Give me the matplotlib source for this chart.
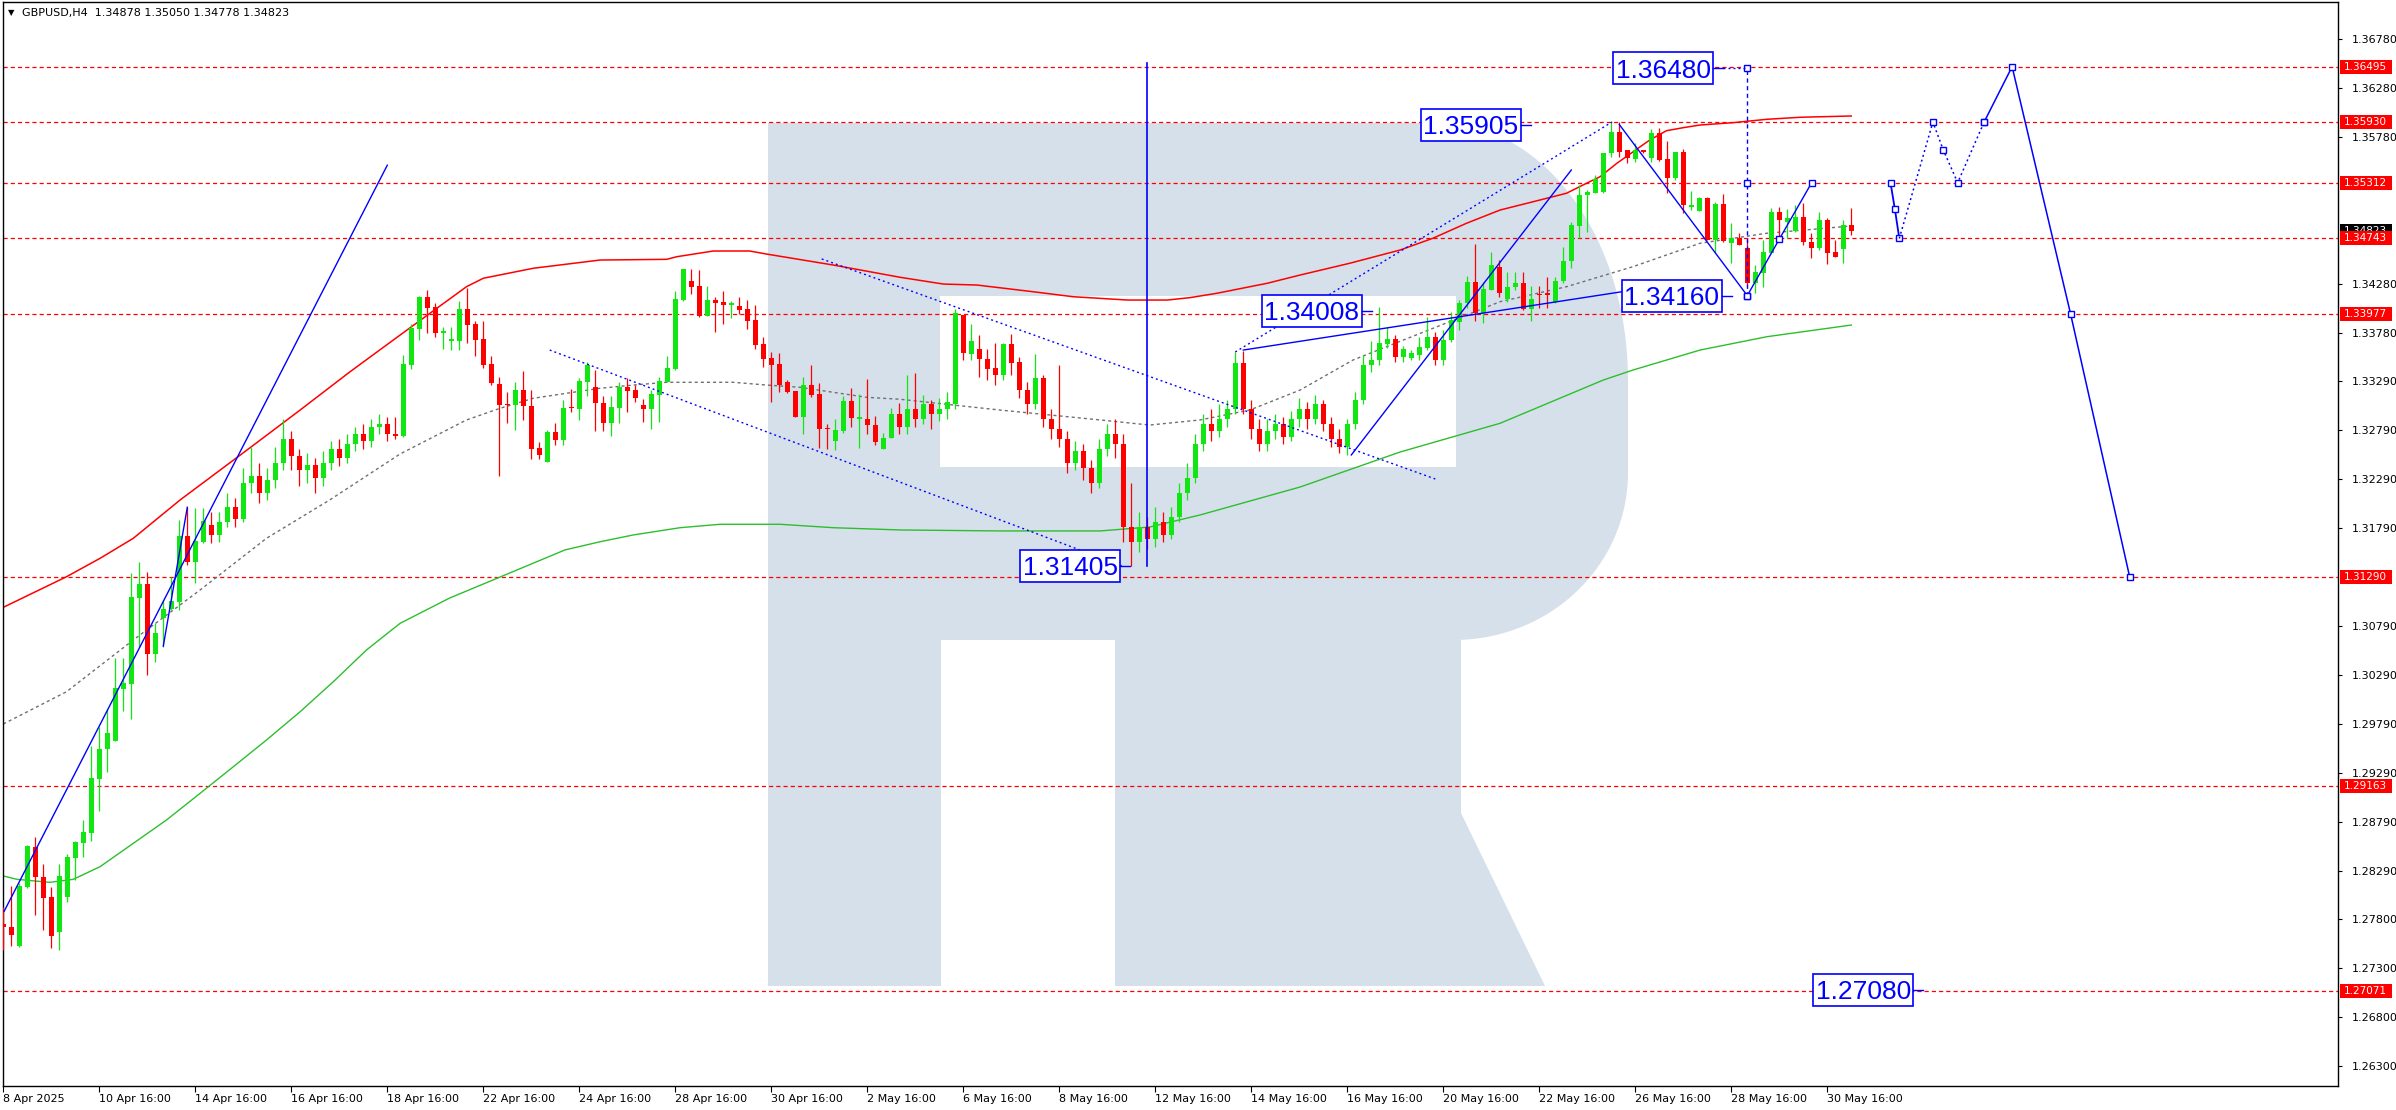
import matplotlib
matplotlib.use("Agg")
import matplotlib.pyplot as plt
import matplotlib.transforms as mtransforms
from matplotlib.patches import Rectangle, Polygon
import numpy as np

plt.rcParams['lines.scale_dashes'] = False
plt.rcParams['font.family'] = ['DejaVu Sans']

W, H = 2396, 1110
# plot area in pixels, and the pixel <-> (bar, price) mapping of the screenshot
AX_L, AX_R, AX_T, AX_B = 3, 2338, 2, 1086
X0_PX, BAR_PX = 3.3, 8.0
TOP_PRICE, PRICE_PX = 1.37175, 9805.0

# ---------------- data: GBPUSD H4, bar 0 = 8 Apr 2025 16:00 ----------------
opens = [
    1.27751, 1.27724, 1.27527, 1.28132, 1.28540, 1.28234, 1.28023, 1.27666, 1.28030, 1.28428,
    1.28581, 1.28683, 1.29234, 1.29533, 1.29621, 1.30148, 1.30196, 1.31080, 1.31216, 1.30502,
    1.30869, 1.30961, 1.31039, 1.31709, 1.31447, 1.31648, 1.31821, 1.3172, 1.3185, 1.3200,
    1.3188, 1.3225, 1.3232, 1.3215, 1.3228, 1.3245, 1.3270, 1.3252, 1.3238, 1.3243,
    1.3230, 1.3245, 1.3260, 1.3250, 1.3265, 1.3275, 1.3268, 1.3282, 1.3285, 1.3275,
    1.32728, 1.33452, 1.33819, 1.34146, 1.34044, 1.33782, 1.33700, 1.33700, 1.34023, 1.33874,
    1.33717, 1.33462, 1.33258, 1.33058, 1.33044, 1.33197, 1.33034, 1.32605, 1.32466, 1.32769,
    1.32691, 1.33017, 1.33007, 1.33282, 1.33224, 1.33061, 1.32864, 1.33017, 1.33228, 1.33197,
    1.33041, 1.33000, 1.33146, 1.33282, 1.33415, 1.34118, 1.34309, 1.34261, 1.33955, 1.34115,
    1.34095, 1.34067, 1.34054, 1.34023, 1.33911, 1.33666, 1.33520, 1.33462, 1.33279, 1.33187,
    1.32925, 1.33248, 1.33156, 1.32809, 1.32680, 1.32782, 1.33085, 1.32905, 1.32901, 1.32840,
    1.32595, 1.32704, 1.32952, 1.3282, 1.3300, 1.3290, 1.3305, 1.3295, 1.3300, 1.3305,
    1.33962, 1.33564, 1.33612, 1.33510, 1.33418, 1.33350, 1.33666, 1.33479, 1.3320, 1.3305,
    1.3332, 1.3290, 1.3280, 1.3270, 1.3245, 1.3258, 1.3240, 1.3225, 1.3260, 1.3275,
    1.3265, 1.3180, 1.3165, 1.3180, 1.3168, 1.3185, 1.3172, 1.3190, 1.3215, 1.3230,
    1.3265, 1.3285, 1.3278, 1.3290, 1.3300, 1.33476, 1.3300, 1.3280, 1.3265, 1.3278,
    1.3285, 1.3272, 1.3290, 1.3300, 1.3290, 1.3305, 1.3285, 1.3270, 1.3262, 1.3285,
    1.3310, 1.3345, 1.33503, 1.33666, 1.33714, 1.33537, 1.33520, 1.33554, 1.33622, 1.33741,
    1.33503, 1.33707, 1.33894, 1.34081, 1.34302, 1.33979, 1.34217, 1.34455, 1.34122, 1.34244,
    1.34285, 1.34020, 1.34176, 1.34183, 1.34098, 1.34312, 1.34516, 1.34873, 1.35186, 1.35210,
    1.35220, 1.35611, 1.35825, 1.35645, 1.35557, 1.35638, 1.35567, 1.35822, 1.35550, 1.35363,
    1.35621, 1.35067, 1.35026, 1.35159, 1.34727, 1.35094, 1.34693, 1.34744, 1.34642, 1.34285,
    1.34394, 1.34591, 1.35009, 1.34914, 1.34822, 1.34958, 1.34710, 1.34649, 1.34931, 1.34601,
    1.34632, 1.34878,
]
highs = [
    1.27928, 1.28139, 1.28166, 1.28557, 1.28635, 1.28363, 1.28132, 1.28363, 1.28465, 1.28601,
    1.28812, 1.29567, 1.29764, 1.29941, 1.30461, 1.30461, 1.31328, 1.31444, 1.31342, 1.30825,
    1.31056, 1.31294, 1.31872, 1.32001, 1.31991, 1.31991, 1.31957, 1.3195, 1.3215, 1.3210,
    1.3240, 1.3262, 1.3245, 1.3240, 1.3262, 1.3290, 1.3278, 1.3260, 1.3255, 1.3250,
    1.3258, 1.3268, 1.3270, 1.3275, 1.3282, 1.3285, 1.3290, 1.3295, 1.3292, 1.3292,
    1.33554, 1.33870, 1.34156, 1.34217, 1.34081, 1.33843, 1.33843, 1.34105, 1.34241, 1.33901,
    1.33901, 1.33547, 1.33330, 1.33177, 1.33279, 1.33394, 1.33197, 1.32670, 1.32789, 1.32857,
    1.33095, 1.33207, 1.33319, 1.33479, 1.33401, 1.33136, 1.33136, 1.33275, 1.33319, 1.33248,
    1.33109, 1.33197, 1.33333, 1.33544, 1.34207, 1.34431, 1.34431, 1.34421, 1.34261, 1.34149,
    1.34210, 1.34108, 1.34149, 1.34118, 1.34064, 1.33741, 1.33588, 1.33578, 1.33299, 1.33187,
    1.33326, 1.33452, 1.33272, 1.32850, 1.32898, 1.33136, 1.33217, 1.33156, 1.33309, 1.32932,
    1.32762, 1.33010, 1.33064, 1.3335, 1.3337, 1.3315, 1.3310, 1.3312, 1.3318, 1.34020,
    1.33962, 1.33870, 1.33758, 1.33612, 1.33673, 1.33673, 1.33768, 1.33537, 1.3328, 1.33564,
    1.3335, 1.3300, 1.3345, 1.3278, 1.3268, 1.3265, 1.3248, 1.3270, 1.3285, 1.3290,
    1.3275, 1.3225, 1.3195, 1.3190, 1.3200, 1.3195, 1.3200, 1.3225, 1.3245, 1.3275,
    1.3295, 1.3300, 1.3305, 1.3310, 1.33588, 1.3360, 1.3310, 1.3290, 1.3290, 1.3295,
    1.3292, 1.3298, 1.3312, 1.3308, 1.3315, 1.3310, 1.3292, 1.3280, 1.3290, 1.3318,
    1.3355, 1.3370, 1.34040, 1.33843, 1.33758, 1.33646, 1.33605, 1.33741, 1.33945, 1.33792,
    1.33809, 1.33996, 1.34115, 1.34360, 1.34686, 1.34302, 1.34601, 1.34523, 1.34404, 1.34404,
    1.34404, 1.34258, 1.34258, 1.34353, 1.34353, 1.34659, 1.34914, 1.35288, 1.35237, 1.35390,
    1.35611, 1.35934, 1.35927, 1.35645, 1.35713, 1.35645, 1.35856, 1.35873, 1.35737, 1.35621,
    1.35655, 1.35227, 1.35169, 1.35169, 1.35118, 1.35193, 1.34897, 1.34795, 1.34734, 1.34472,
    1.34727, 1.35050, 1.35067, 1.35040, 1.35084, 1.35101, 1.34795, 1.35016, 1.34948, 1.34727,
    1.34931, 1.35050,
]
lows = [
    1.27486, 1.27527, 1.27513, 1.28115, 1.27843, 1.27690, 1.27503, 1.27486, 1.27979, 1.28200,
    1.28438, 1.28601, 1.28907, 1.29305, 1.29621, 1.29927, 1.29839, 1.30580, 1.30288, 1.30427,
    1.30580, 1.30954, 1.30954, 1.31410, 1.31226, 1.31634, 1.31634, 1.3165, 1.3180, 1.3180,
    1.3185, 1.3215, 1.3205, 1.3208, 1.3220, 1.3238, 1.3238, 1.3222, 1.3225, 1.3215,
    1.3222, 1.3238, 1.3242, 1.3245, 1.3258, 1.3260, 1.3262, 1.3275, 1.3268, 1.3270,
    1.32714, 1.33411, 1.33707, 1.33782, 1.33741, 1.33615, 1.33605, 1.33605, 1.33680, 1.33544,
    1.33425, 1.33248, 1.32323, 1.32864, 1.32789, 1.32891, 1.32497, 1.32497, 1.32466, 1.32636,
    1.32636, 1.32969, 1.32891, 1.33139, 1.32782, 1.32782, 1.32731, 1.32864, 1.32976, 1.33078,
    1.32874, 1.32796, 1.32874, 1.33282, 1.33401, 1.34108, 1.34173, 1.33938, 1.33955, 1.33792,
    1.33870, 1.33928, 1.33969, 1.33816, 1.33619, 1.33428, 1.33078, 1.33180, 1.33163, 1.32925,
    1.32745, 1.33129, 1.32609, 1.32595, 1.32585, 1.32755, 1.32816, 1.32602, 1.32748, 1.32636,
    1.32595, 1.32704, 1.32745, 1.3275, 1.3282, 1.3285, 1.3280, 1.3288, 1.3290, 1.3300,
    1.33503, 1.3350, 1.33333, 1.3330, 1.3325, 1.3330, 1.3335, 1.3312, 1.3295, 1.3300,
    1.3282, 1.3270, 1.3262, 1.3235, 1.3238, 1.3228, 1.3215, 1.3220, 1.3252, 1.3250,
    1.3165, 1.31405, 1.3155, 1.3158, 1.3160, 1.3165, 1.3168, 1.3185, 1.3208, 1.3225,
    1.3258, 1.3268, 1.3272, 1.3282, 1.3295, 1.3295, 1.3270, 1.3258, 1.3258, 1.3270,
    1.3265, 1.3268, 1.3282, 1.3280, 1.3285, 1.3278, 1.3262, 1.3255, 1.3253, 1.3280,
    1.3305, 1.3338, 1.3345, 1.33622, 1.3348, 1.3348, 1.33503, 1.33503, 1.33605, 1.3345,
    1.3345, 1.33690, 1.33809, 1.34030, 1.33904, 1.33877, 1.34217, 1.3415, 1.34098, 1.34217,
    1.34013, 1.33904, 1.34030, 1.34030, 1.34081, 1.34285, 1.34438, 1.34744, 1.34805, 1.35203,
    1.35210, 1.35577, 1.35577, 1.35509, 1.35526, 1.35611, 1.35526, 1.35536, 1.35210, 1.35339,
    1.34999, 1.35033, 1.35026, 1.34727, 1.34591, 1.34710, 1.34489, 1.34676, 1.34268, 1.34183,
    1.34251, 1.34591, 1.34744, 1.34744, 1.34812, 1.34676, 1.34547, 1.34625, 1.34479, 1.34550,
    1.34496, 1.34778,
]
closes = [
    1.27717, 1.27642, 1.28139, 1.28547, 1.28234, 1.28020, 1.27632, 1.28241, 1.28431, 1.28588,
    1.28690, 1.29240, 1.29533, 1.29696, 1.30155, 1.30206, 1.31083, 1.31216, 1.30502, 1.30716,
    1.30961, 1.31046, 1.31709, 1.31447, 1.31654, 1.31858, 1.31722, 1.3185, 1.3200, 1.3188,
    1.3225, 1.3232, 1.3215, 1.3228, 1.3245, 1.3270, 1.3252, 1.3238, 1.3243, 1.3230,
    1.3245, 1.3260, 1.3250, 1.3265, 1.3275, 1.3268, 1.3282, 1.3285, 1.3275, 1.3273,
    1.33462, 1.33826, 1.34149, 1.34037, 1.33782, 1.33799, 1.33707, 1.34023, 1.33863, 1.33710,
    1.33452, 1.33272, 1.33044, 1.33044, 1.33197, 1.33037, 1.32599, 1.32537, 1.32769, 1.32691,
    1.33013, 1.33010, 1.33289, 1.33452, 1.33061, 1.32864, 1.33024, 1.33228, 1.33190, 1.33115,
    1.33000, 1.33156, 1.33289, 1.33421, 1.34125, 1.34431, 1.34251, 1.33955, 1.34115, 1.34088,
    1.34067, 1.34074, 1.34016, 1.33904, 1.33659, 1.33510, 1.33452, 1.33248, 1.33180, 1.32925,
    1.33248, 1.33146, 1.32803, 1.32796, 1.32789, 1.33085, 1.32915, 1.32911, 1.32837, 1.32670,
    1.32704, 1.32952, 1.32816, 1.3300, 1.3290, 1.3305, 1.3295, 1.3300, 1.3308, 1.33979,
    1.33578, 1.33697, 1.33513, 1.33411, 1.33350, 1.33666, 1.33476, 1.3320, 1.3305, 1.3332,
    1.3290, 1.3280, 1.3270, 1.3245, 1.3258, 1.3240, 1.3225, 1.3260, 1.3275, 1.3265,
    1.3180, 1.3165, 1.3180, 1.3168, 1.3185, 1.3172, 1.3190, 1.3215, 1.3230, 1.3265,
    1.3285, 1.3278, 1.3290, 1.3300, 1.33476, 1.3300, 1.3280, 1.3265, 1.3278, 1.3285,
    1.3272, 1.3290, 1.3300, 1.3290, 1.3305, 1.3285, 1.3270, 1.3262, 1.3285, 1.3310,
    1.3345, 1.3350, 1.33673, 1.33714, 1.33537, 1.33612, 1.33571, 1.33639, 1.33741, 1.33503,
    1.33707, 1.33911, 1.34081, 1.34302, 1.33979, 1.34227, 1.34472, 1.34183, 1.34244, 1.34285,
    1.34020, 1.34122, 1.34166, 1.34169, 1.34312, 1.34516, 1.34880, 1.35186, 1.35220, 1.35349,
    1.35611, 1.35825, 1.35628, 1.35560, 1.35645, 1.35628, 1.35822, 1.35543, 1.35363, 1.35621,
    1.35084, 1.35084, 1.35152, 1.34727, 1.35094, 1.34720, 1.34744, 1.34676, 1.34285, 1.34404,
    1.34601, 1.35009, 1.34931, 1.34948, 1.34965, 1.34710, 1.34649, 1.34931, 1.34598, 1.34557,
    1.34878, 1.34823,
]

# moving averages, read as (bar, price) points
red_ma_x = [0, 7.9, 12.1, 16.25, 22.1, 30.8, 37.1, 43.3, 49.6, 57.9, 60, 66.25, 74.6, 82.9,
            84.2, 88.75, 93.3, 95.4, 103.75, 112.1, 117.5, 121.7, 128.7, 133.7, 140.5, 145.5,
            148.3, 151.7, 158, 162.1, 168.3, 174.6, 178.7, 182.9, 187.1, 191.25, 195.4, 197.9,
            199.6, 201.7, 203.75, 205.8, 207.9, 210, 212.1, 216.25, 220.4, 224.6, 231]
red_ma_y = [1.30981, 1.31293, 1.31481, 1.31685, 1.32076, 1.32606, 1.32993, 1.33381, 1.33758,
            1.34251, 1.34337, 1.34439, 1.34523, 1.34530, 1.34557, 1.34615, 1.34615, 1.34584,
            1.34472, 1.34347, 1.34278, 1.34268, 1.34200, 1.34149, 1.34115, 1.34115, 1.34139,
            1.34184, 1.34286, 1.34370, 1.34490, 1.34625, 1.34745, 1.34898, 1.35033, 1.35118,
            1.35204, 1.35306, 1.35373, 1.35510, 1.35628, 1.35747, 1.35842, 1.35873, 1.35900,
            1.35924, 1.35958, 1.35979, 1.35992]
gray_ma_x = [0, 7.9, 16.25, 24.6, 32.9, 40.8, 49.6, 57.9, 62.1, 66.25, 70.4, 74.6, 78.75, 82.9,
             91.25, 95.4, 99.6, 107.9, 112.1, 124.6, 137.1, 143.3, 149.6, 155.8, 162.1, 168.7,
             187.1, 195.4, 203.7, 212.1, 220.4, 231]
gray_ma_y = [1.29791, 1.30120, 1.30648, 1.31158, 1.31685, 1.32076, 1.32545, 1.32892, 1.33011,
             1.33113, 1.33164, 1.33215, 1.33248, 1.33276, 1.33276, 1.33248, 1.33225, 1.33123,
             1.33103, 1.32993, 1.32892, 1.32840, 1.32892, 1.32993, 1.33197, 1.33503, 1.34098,
             1.34251, 1.34455, 1.34694, 1.34796, 1.34870]
green_ma_x = [0, 1.7, 5.8, 8.75, 12.1, 16.25, 20.4, 24.6, 28.75, 32.9, 37.1, 41.25, 45.4, 49.6,
              55.8, 62.1, 70.2, 74.6, 78.75, 84.6, 89.6, 97.1, 103.75, 112.1, 124.6, 137.1,
              143.3, 149.6, 162.1, 174.6, 187.1, 200, 203.7, 212.1, 220.45, 231]
green_ma_y = [1.28241, 1.28207, 1.28176, 1.28207, 1.28336, 1.28574, 1.28812, 1.29084, 1.29355,
              1.29628, 1.29916, 1.30222, 1.30546, 1.30818, 1.31076, 1.31290, 1.31566, 1.31650,
              1.31719, 1.31793, 1.31828, 1.31828, 1.31793, 1.31770, 1.31760, 1.31760, 1.31800,
              1.31923, 1.32208, 1.32565, 1.32858, 1.33299, 1.33401, 1.33605, 1.33741, 1.33860]

levels = [1.36495, 1.35930, 1.35312, 1.34743, 1.33977, 1.31290, 1.29163, 1.27071]
last_price = 1.34823
# scale labels that are not hidden behind the level tags
price_ticks = [1.36780, 1.36280, 1.35780, 1.34280, 1.33780, 1.33290, 1.32790, 1.32290,
               1.31790, 1.30790, 1.30290, 1.29790, 1.29290, 1.28790, 1.28290, 1.27800,
               1.27300, 1.26800, 1.26300]
time_labels = ['8 Apr 2025', '10 Apr 16:00', '14 Apr 16:00', '16 Apr 16:00', '18 Apr 16:00',
               '22 Apr 16:00', '24 Apr 16:00', '28 Apr 16:00', '30 Apr 16:00', '2 May 16:00',
               '6 May 16:00', '8 May 16:00', '12 May 16:00', '14 May 16:00', '16 May 16:00',
               '20 May 16:00', '22 May 16:00', '26 May 16:00', '28 May 16:00', '30 May 16:00']
header = 'GBPUSD,H4  1.34878 1.35050 1.34778 1.34823'

# analysis drawings (bar, price)
solid_lines = [((0.1, 1.2788), (48.0, 1.3549)),
               ((20.0, 1.30586), (23.0, 1.32001)),
               ((155.0, 1.33605), (209.2, 1.34286)),
               ((168.5, 1.32535), (196.0, 1.35441))]
dotted_lines = [((68.3, 1.33605), (139.8, 1.31405)),
                ((102.3, 1.34534), (179.0, 1.32290)),
                ((154.0, 1.33585), (201.1, 1.35931))]
spike_bar, spike_top, spike_bottom = 142.96, 1.36532, 1.31402
label_text = ['1.36480', '1.35905', '1.34008', '1.34160', '1.31405', '1.27080']
label_bar = [201.25, 177.2, 157.3, 202.3, 127.1, 226.25]
zigzag_x = [202.0, 218.0, 222.0, 226.05]
zigzag_y = [1.35905, 1.34160, 1.34736, 1.35312]
proj_bar, proj_y = 218.0, [1.36480, 1.35312, 1.34160]
fc_solid1_x, fc_solid1_y = [235.9, 236.45, 237.0], [1.35312, 1.35040, 1.34743]
fc_dot_x, fc_dot_y = [237.0, 241.2, 242.5, 244.3, 247.6], [1.34743, 1.35930, 1.35645, 1.35312, 1.35930]
fc_solid2_x, fc_solid2_y = [247.6, 251.1, 258.4, 265.8], [1.35930, 1.36495, 1.33977, 1.31290]

BULL, BEAR = '#12E612', '#FF0000'
BLUE = '#0000FF'
WM = '#D6E0EB'

# ---------------- figure ----------------
fig = plt.figure(figsize=(W / 100, H / 100), dpi=100)
ax = fig.add_axes([AX_L / W, 1 - AX_B / H, (AX_R - AX_L) / W, (AX_B - AX_T) / H])
ax.set_xlim((AX_L - X0_PX) / BAR_PX, (AX_R - X0_PX) / BAR_PX)
ax.set_ylim(TOP_PRICE - AX_B / PRICE_PX, TOP_PRICE - AX_T / PRICE_PX)


def px(x, y):
    # screenshot pixel -> data coords (used for the logo only)
    return ((x - X0_PX) / BAR_PX, TOP_PRICE - y / PRICE_PX)


# watermark logo
t = np.linspace(np.pi / 2, 0, 40)
u = np.linspace(0, np.pi / 2, 40)
logo = [(768, 123), (1440, 123)]
logo += list(zip(1440 + 188 * np.cos(t), 380 - 257 * np.sin(t)))
logo += list(zip(1454 + 174 * np.cos(u), 473 + 167 * np.sin(u)))
logo += [(1461, 640), (1461, 813), (1545, 986), (1115, 986), (1115, 640),
         (941, 640), (941, 986), (768, 986)]
ax.add_patch(Polygon([px(*p) for p in logo], closed=True, fc=WM, ec='none', zorder=0.5))
hole = [(940, 296), (1456, 296), (1456, 467), (940, 467)]
ax.add_patch(Polygon([px(*p) for p in hole], closed=True, fc='white', ec='none', zorder=0.6))

# horizontal levels
for lv in levels:
    ax.axhline(lv, color='#FF0000', lw=0.9, ls=(0, (3.0, 2.2)), zorder=2)

# moving averages
ax.plot(red_ma_x, red_ma_y, color='#FF0000', lw=1.1, zorder=2.5)
ax.plot(gray_ma_x, gray_ma_y, color='#707070', lw=1.0, ls=(0, (2.2, 2.2)), zorder=2.5)
ax.plot(green_ma_x, green_ma_y, color='#2DBE2D', lw=1.0, zorder=2.5)

# candles
o, hi, lo, c = map(np.array, (opens, highs, lows, closes))
idx = np.arange(len(c))
col = np.where(c >= o, BULL, BEAR)
ax.vlines(idx, lo, hi, colors=col, lw=0.9, zorder=3)
body = np.maximum(np.abs(c - o), 1.3 / PRICE_PX)
ax.bar(idx, body, bottom=np.minimum(o, c), width=0.64, color=col, lw=0, zorder=4)

# drawings
for (x1, y1), (x2, y2) in solid_lines:
    ax.plot([x1, x2], [y1, y2], color=BLUE, lw=1.0, zorder=5)
for (x1, y1), (x2, y2) in dotted_lines:
    ax.plot([x1, x2], [y1, y2], color=BLUE, lw=1.0, ls=(0, (1.4, 2.2)), zorder=5)
ax.plot([spike_bar, spike_bar], [spike_bottom, spike_top], color=BLUE, lw=1.2, zorder=5)

ax.plot(zigzag_x, zigzag_y, color=BLUE, lw=1.0, zorder=6)
ax.plot(zigzag_x[1:], zigzag_y[1:], ls='none', marker='s', ms=5, mfc='white', mec=BLUE, mew=1.0, zorder=7)
ax.plot([proj_bar, proj_bar], [proj_y[-1], proj_y[0]], color=BLUE, lw=1.0, ls=(0, (3, 2.5)), zorder=6)
ax.plot([proj_bar] * 3, proj_y, ls='none', marker='s', ms=4, mfc='white', mec=BLUE, mew=1.0, zorder=7)

ax.plot(fc_solid1_x, fc_solid1_y, color=BLUE, lw=1.3, marker='s', ms=5, mfc='white', mec=BLUE, zorder=6)
ax.plot(fc_dot_x, fc_dot_y, color=BLUE, lw=1.1, ls=(0, (1.4, 2.2)), zorder=6)
ax.plot(fc_dot_x[1:], fc_dot_y[1:], ls='none', marker='s', ms=5, mfc='white', mec=BLUE, zorder=7)
ax.plot(fc_solid2_x, fc_solid2_y, color=BLUE, lw=1.1, marker='s', ms=5, mfc='white', mec=BLUE, zorder=6)

# price labels in boxes
box_w, box_h = 100 / BAR_PX, 32 / PRICE_PX
for txt, xb in zip(label_text, label_bar):
    yv = float(txt)
    ax.add_patch(Rectangle((xb, yv - box_h / 2), box_w, box_h, fc='white', ec=BLUE, lw=1.2, zorder=8))
    ax.text(xb + box_w / 2, yv, txt, color=BLUE, fontsize=19, family=['Liberation Sans', 'DejaVu Sans'],
            ha='center', va='center_baseline', zorder=9)
    ax.plot([xb + box_w, xb + box_w + 1.25], [yv, yv], color=BLUE, lw=1.0, zorder=8)
ax.plot([label_bar[0] + box_w + 1.25, proj_bar], [1.3648, 1.3648], color=BLUE, lw=1.0,
        ls=(0, (1.4, 2.2)), zorder=8)

# axes styling
ax.yaxis.tick_right()
ax.set_yticks(price_ticks)
ax.set_yticklabels([f'{v:.5f}' for v in price_ticks])
ax.set_xticks(np.arange(len(time_labels)) * 12)
ax.set_xticklabels(time_labels)
for lab in ax.get_xticklabels():
    lab.set_horizontalalignment('left')
ax.tick_params(axis='y', length=3, width=0.8, pad=7, labelsize=8, colors='black')
ax.tick_params(axis='x', length=4, width=0.8, pad=2, labelsize=8, colors='black')
for sp in ax.spines.values():
    sp.set_color('black')
    sp.set_linewidth(1.0)

# tags on the price scale
tr = mtransforms.blended_transform_factory(ax.transAxes, ax.transData)
tag_x = (2340 - AX_L) / (AX_R - AX_L)
tag_w = 52 / (AX_R - AX_L)
tag_h = 14 / PRICE_PX
tags = [(last_price, '#000000')] + [(lv, '#FF0000') for lv in levels]
for i, (val, fc) in enumerate(tags):
    ax.add_patch(Rectangle((tag_x, val - tag_h / 2), tag_w, tag_h, transform=tr, fc=fc, ec='none',
                           clip_on=False, zorder=20 + i))
    ax.text(tag_x + 4 / (AX_R - AX_L), val, f'{val:.5f}', transform=tr, color='white', fontsize=7.5,
            ha='left', va='center', clip_on=False, zorder=20 + i)

fig.text(8 / W, 1 - 13 / H, '\u25bc', fontsize=6, va='center', color='black')
fig.text(22 / W, 1 - 13 / H, header, fontsize=8, va='center', color='black')

fig.savefig('out.png', dpi=100, facecolor='white')
